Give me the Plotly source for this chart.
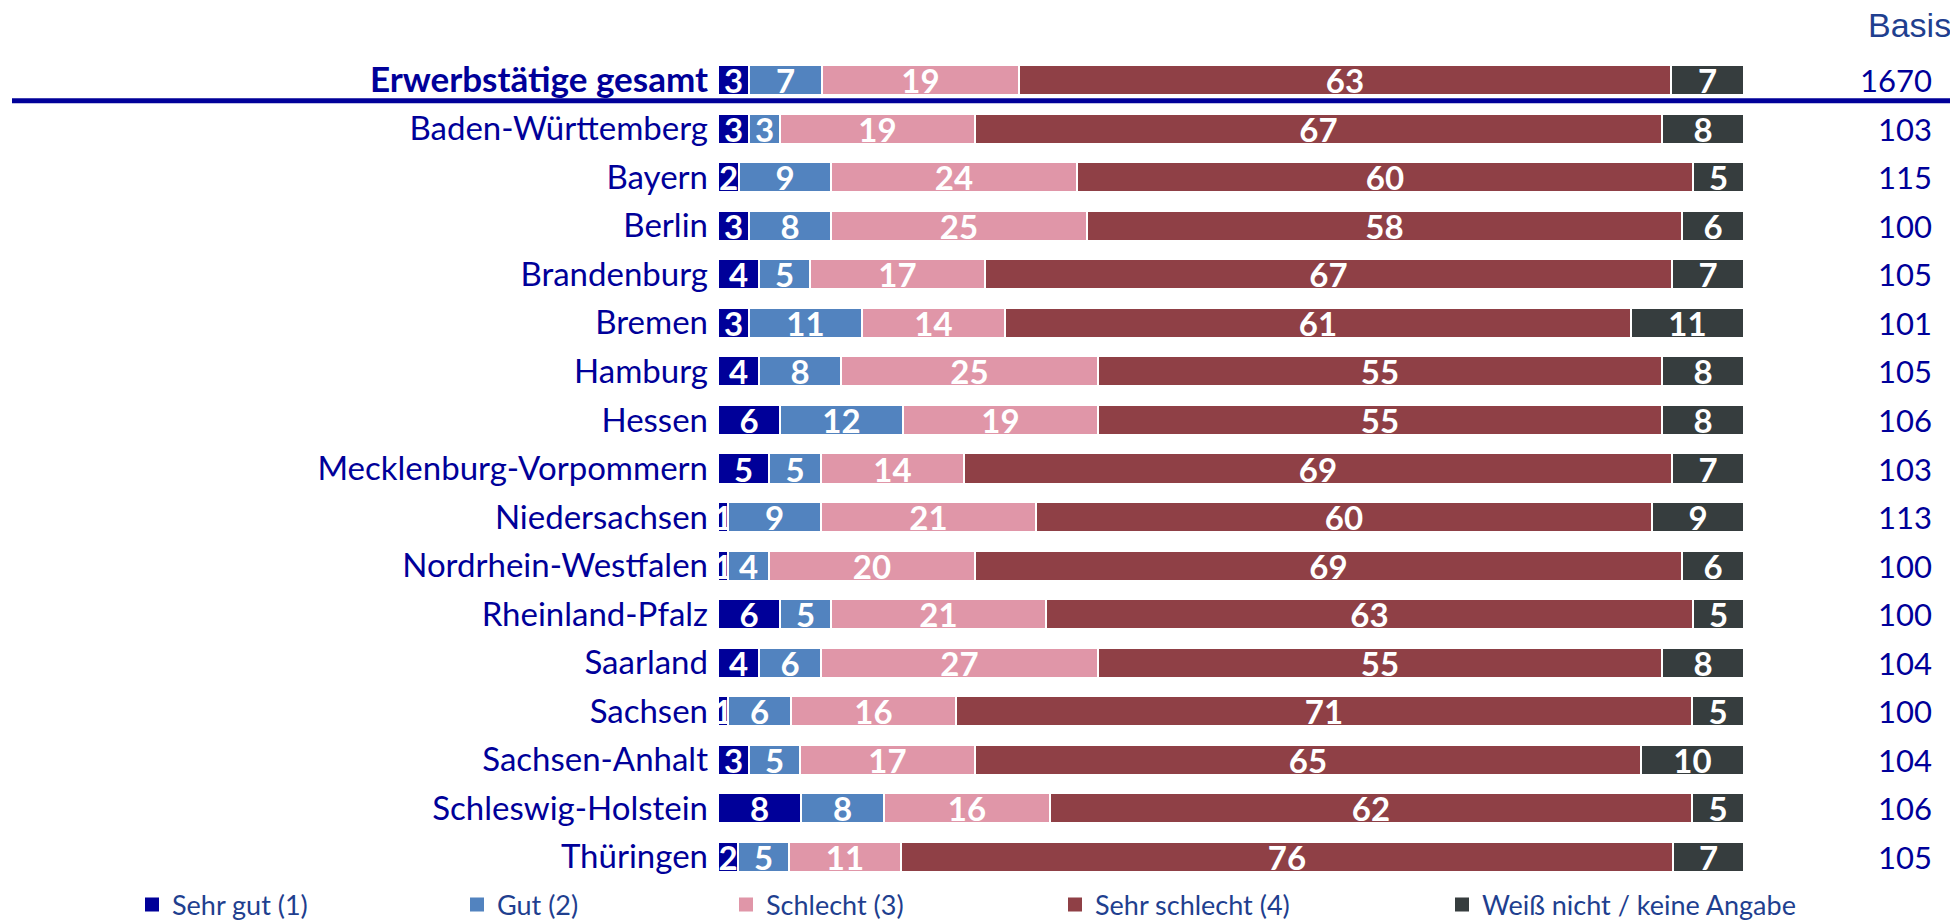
import plotly.graph_objects as go

categories = ["Erwerbstätige gesamt", "Baden-Württemberg", "Bayern", "Berlin", "Brandenburg",
              "Bremen", "Hamburg", "Hessen", "Mecklenburg-Vorpommern", "Niedersachsen",
              "Nordrhein-Westfalen", "Rheinland-Pfalz", "Saarland", "Sachsen", "Sachsen-Anhalt",
              "Schleswig-Holstein", "Thüringen"]
sehr_gut = [3, 3, 2, 3, 4, 3, 4, 6, 5, 1, 1, 6, 4, 1, 3, 8, 2]
gut = [7, 3, 9, 8, 5, 11, 8, 12, 5, 9, 4, 5, 6, 6, 5, 8, 5]
schlecht = [19, 19, 24, 25, 17, 14, 25, 19, 14, 21, 20, 21, 27, 16, 17, 16, 11]
sehr_schlecht = [63, 67, 60, 58, 67, 61, 55, 55, 69, 60, 69, 63, 55, 71, 65, 62, 76]
weiss_nicht = [7, 8, 5, 6, 7, 11, 8, 8, 7, 9, 6, 5, 8, 5, 10, 5, 7]
basis = [1670, 103, 115, 100, 105, 101, 105, 106, 103, 113, 100, 100, 104, 100, 104, 106, 105]

series_names = ["Sehr gut (1)", "Gut (2)", "Schlecht (3)", "Sehr schlecht (4)", "Weiß nicht / keine Angabe"]
series_values = [sehr_gut, gut, schlecht, sehr_schlecht, weiss_nicht]
series_colors = ["#000099", "#5283bf", "#e096a8", "#8f4046", "#363d3e"]
basis_title = "Basis"

FONT = "Lato"
NAVY = "#000099"
LEG_COL = "#1f3f8f"

W, H = 1950, 922
ML, MR, MT, MB = 718, 206, 56, 41
PW = W - ML - MR
PH = H - MT - MB

totals = [sum(s[i] for s in series_values) for i in range(len(categories))]

fig = go.Figure()
legend_text_px = [172, 497, 766, 1095, 1482]
for k, (name, vals, col) in enumerate(zip(series_names, series_values, series_colors)):
    xs = [v / t * 100 for v, t in zip(vals, totals)]
    lg = "legend" if k == 0 else f"legend{k+1}"
    fig.add_trace(go.Bar(
        y=categories, x=xs, name=name, orientation="h",
        marker=dict(color=col, line=dict(color="white", width=2)),
        text=[str(v) for v in vals], textposition="inside", insidetextanchor="middle",
        textangle=0, textfont=dict(family=FONT, size=33, color="white", weight="bold"),
        width=0.62, hoverinfo="skip", showlegend=False,
    ))
    # legend entry (square symbol like the reference)
    fig.add_trace(go.Scatter(
        x=[None], y=[None], mode="markers", name=name, legend=lg,
        marker=dict(symbol="square", size=14, color=col), hoverinfo="skip",
    ))

ticktext = [f"<span style='font-size:35px'><b>{c}</b></span>" if i == 0 else c
            for i, c in enumerate(categories)]

layout_legends = {}
for k, name in enumerate(series_names):
    key = "legend" if k == 0 else f"legend{k+1}"
    layout_legends[key] = dict(
        x=(legend_text_px[k] - 40 - ML) / PW, xref="paper", xanchor="left",
        y=(H - MB - 905) / PH, yref="paper", yanchor="middle",
        orientation="h", bgcolor="rgba(0,0,0,0)",
        font=dict(family=FONT, size=27, color=LEG_COL), itemwidth=30,
    )

fig.update_layout(
    width=W, height=H,
    margin=dict(l=ML, r=MR, t=MT, b=MB, autoexpand=False),
    plot_bgcolor="white", paper_bgcolor="white",
    barmode="stack", bargap=0,
    showlegend=True,
    uniformtext=dict(minsize=33, mode="show"),
    xaxis=dict(range=[0, 100], visible=False, fixedrange=True),
    yaxis=dict(categoryorder="array", categoryarray=categories, autorange="reversed",
               tickmode="array", tickvals=categories, ticktext=ticktext,
               tickfont=dict(family=FONT, size=33, color=NAVY),
               showgrid=False, zeroline=False, showline=False, ticks="",
               ticklabelstandoff=9, fixedrange=True),
    **layout_legends,
)

# separator line below total row
fig.add_shape(type="line", xref="paper", yref="y",
              x0=(12 - ML) / PW, x1=(W - ML) / PW, y0=0.42, y1=0.42,
              line=dict(color=NAVY, width=5))

# Basis header and values
fig.add_annotation(text=basis_title, xref="paper", yref="paper",
                   x=(1953 - ML) / PW, y=(H - MB - 25) / PH, xanchor="right", yanchor="middle",
                   showarrow=False, font=dict(family="Liberation Sans", size=34, color=LEG_COL))
for c, b in zip(categories, basis):
    fig.add_annotation(text=str(b), xref="paper", yref="y", x=(1934 - ML) / PW, y=c,
                       xanchor="right", yanchor="middle", showarrow=False,
                       font=dict(family=FONT, size=31, color=NAVY))

fig.write_html("out.html", config={"displayModeBar": False},
               post_script="document.body.style.margin='0';")
